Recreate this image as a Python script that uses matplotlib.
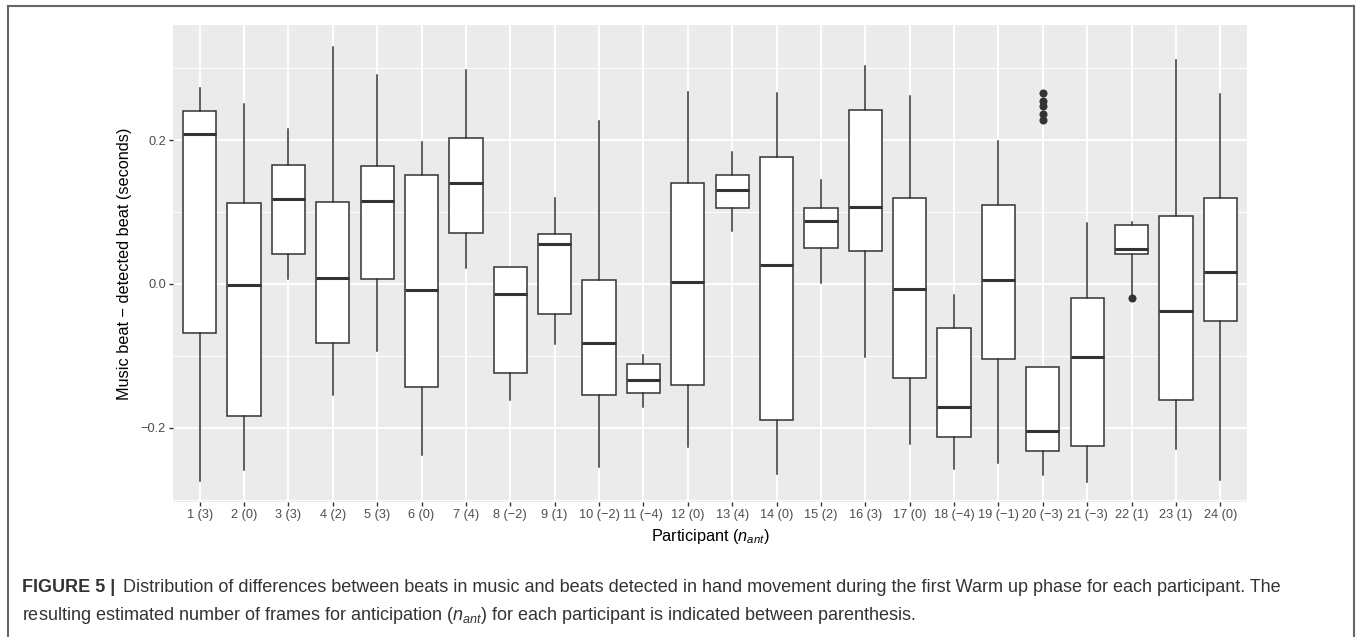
import numpy as np
import matplotlib
matplotlib.use("Agg")
import matplotlib.pyplot as plt
from matplotlib.lines import Line2D

plt.rcParams['font.family'] = ['Liberation Sans', 'DejaVu Sans']
plt.rcParams['mathtext.fontset'] = 'custom'
plt.rcParams['mathtext.rm'] = 'Liberation Sans'
plt.rcParams['mathtext.it'] = 'Liberation Sans:italic'

# Participant labels: "id (n_ant)"
participants = list(range(1, 25))
n_ant = [3, 0, 3, 2, 3, 0, 4, -2, 1, -2, -4, 0, 4, 0, 2, 3, 0, -4, -1, -3, -3, 1, 1, 0]

# Box statistics (seconds)
whis_lo = [-0.274, -0.259, 0.0065, -0.154, -0.093, -0.238, 0.022, -0.162, -0.084, -0.255,
           -0.171, -0.227, 0.074, -0.264, 0.002, -0.102, -0.222, -0.257, -0.249, -0.266,
           -0.275, -0.017, -0.229, -0.272]
q1 = [-0.068, -0.183, 0.042, -0.082, 0.007, -0.143, 0.071, -0.124, -0.042, -0.154,
      -0.152, -0.141, 0.105, -0.189, 0.050, 0.046, -0.131, -0.213, -0.105, -0.232,
      -0.226, 0.042, -0.162, -0.052]
median = [0.208, -0.001, 0.118, 0.009, 0.116, -0.009, 0.140, -0.014, 0.056, -0.082,
          -0.134, 0.003, 0.131, 0.026, 0.087, 0.107, -0.007, -0.171, 0.006, -0.204,
          -0.101, 0.049, -0.038, 0.017]
q3 = [0.240, 0.112, 0.165, 0.114, 0.164, 0.152, 0.203, 0.023, 0.069, 0.006,
      -0.111, 0.140, 0.151, 0.176, 0.106, 0.242, 0.119, -0.061, 0.110, -0.116,
      -0.019, 0.082, 0.094, 0.120]
whis_hi = [0.272, 0.250, 0.216, 0.330, 0.290, 0.198, 0.298, 0.024, 0.120, 0.227,
           -0.099, 0.267, 0.184, 0.266, 0.144, 0.303, 0.261, -0.015, 0.199, -0.116,
           0.085, 0.086, 0.311, 0.264]
outliers = {20: [0.266, 0.255, 0.247, 0.237, 0.228], 22: [-0.020]}

tick_labels = [f"{p} ({str(n).replace('-', chr(0x2212))})" for p, n in zip(participants, n_ant)]

W, H = 1360, 637
fig = plt.figure(figsize=(W / 100, H / 100), dpi=100)

# panel placement (pixels)
left, right, top, bottom = 173, 1247, 25, 502
ax = fig.add_axes([left / W, 1 - bottom / H, (right - left) / W, (bottom - top) / H])
ax.set_facecolor('#EBEBEB')

stats = []
for i, p in enumerate(participants):
    stats.append(dict(med=median[i], q1=q1[i], q3=q3[i], whislo=whis_lo[i],
                      whishi=whis_hi[i], fliers=outliers.get(p, [])))

edge = '#333333'
ax.bxp(stats, positions=participants, widths=0.75, showcaps=False, patch_artist=True,
       boxprops=dict(facecolor='white', edgecolor=edge, linewidth=1.1),
       medianprops=dict(color=edge, linewidth=2.2, solid_capstyle='butt'),
       whiskerprops=dict(color=edge, linewidth=1.1),
       flierprops=dict(marker='o', markersize=4.8, markerfacecolor=edge,
                       markeredgecolor=edge, linestyle='none'),
       zorder=3)

ax.set_xlim(0.4, 24.6)
ax.set_ylim(-0.3032, 0.3602)
ax.set_xticks(participants)
ax.set_xticklabels(tick_labels)
ax.set_yticks([-0.2, 0.0, 0.2])
ax.set_yticklabels(['\u22120.2', '0.0', '0.2'])
ax.set_yticks([-0.3, -0.1, 0.1, 0.3], minor=True)
ax.tick_params(axis='both', which='major', length=3, width=1, color=edge,
               labelcolor='#4D4D4D', labelsize=9.2, pad=2)
ax.tick_params(axis='y', which='minor', length=0)
ax.grid(which='major', color='white', linewidth=1.4)
ax.grid(which='minor', axis='y', color='white', linewidth=0.7)
ax.set_axisbelow(True)
for s in ax.spines.values():
    s.set_visible(False)

# axis titles
fig.text(125 / W, 1 - (top + bottom) / 2 / H, 'Music beat \u2212 detected beat (seconds)',
         rotation=90, ha='center', va='center', fontsize=11.7, color='black')
fig.text((left + right) / 2 / W, 1 - 537 / H, 'Participant ($n_{ant}$)',
         ha='center', va='center', fontsize=11.7, color='black')

# caption
cap_col = '#333333'
fig.text(22 / W, 1 - 588 / H, 'FIGURE 5 |', fontweight='bold', fontsize=13,
         color=cap_col, va='center')
fig.text(123 / W, 1 - 588 / H,
         'Distribution of differences between beats in music and beats detected in hand '
         'movement during the first Warm up phase for each participant. The',
         fontsize=13, color=cap_col, va='center')
fig.text(22 / W, 1 - 615 / H,
         'resulting estimated number of frames for anticipation ($n_{ant}$) for each '
         'participant is indicated between parenthesis.',
         fontsize=13, color=cap_col, va='center')

# outer frame
frame_col = '#666666'
fx0, fx1, fy0 = 8 / W, 1354 / W, 1 - 6 / H
for xs, ys in [([fx0, fx0], [0, fy0]), ([fx0, fx1], [fy0, fy0]), ([fx1, fx1], [fy0, 0])]:
    fig.add_artist(Line2D(xs, ys, color=frame_col, linewidth=1.5, transform=fig.transFigure))

fig.savefig('out.png', dpi=100)
